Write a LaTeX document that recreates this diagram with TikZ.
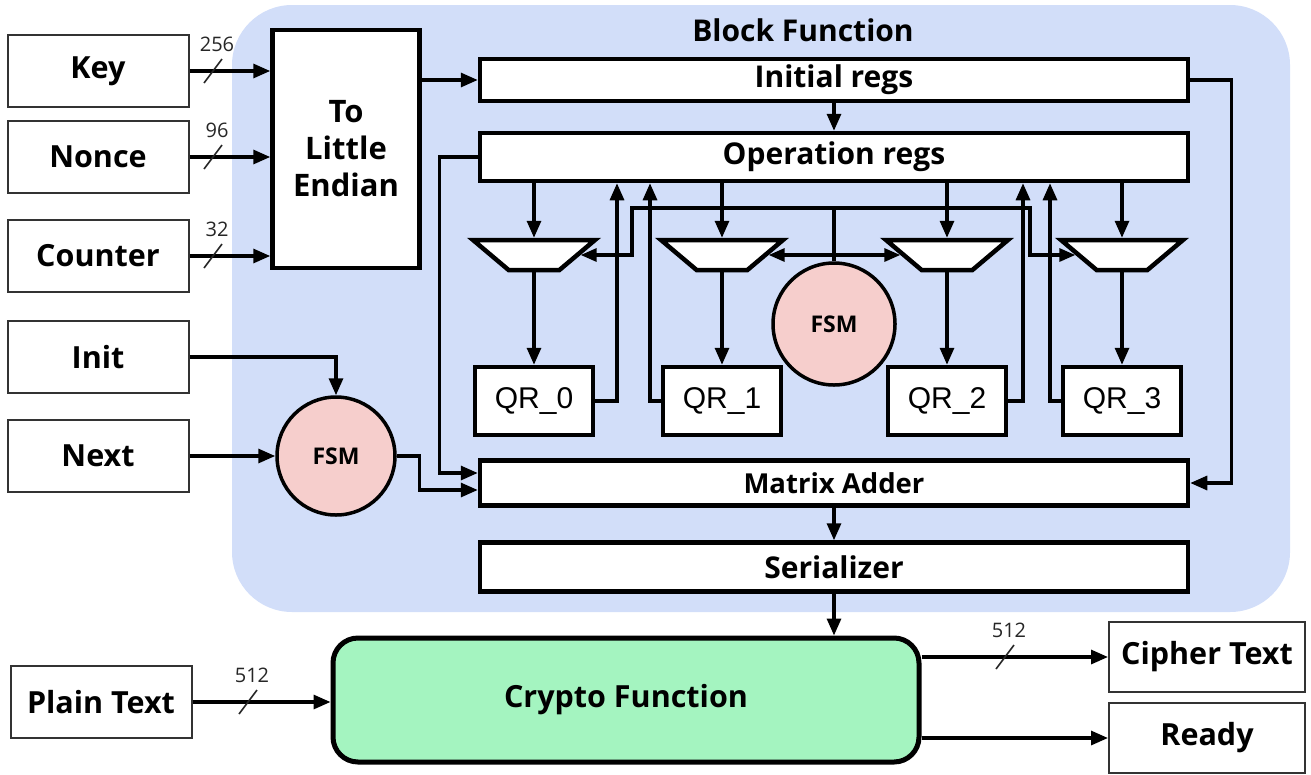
\documentclass[tikz,border=0pt]{standalone}
\usepackage{fontspec}
\setmainfont{Open Sans}
\newfontfamily\qrfont{Liberation Sans}
\usetikzlibrary{shapes.geometric,arrows.meta}
\definecolor{blockblue}{RGB}{210,222,249}
\definecolor{fsmpink}{RGB}{246,206,204}
\definecolor{cryptogreen}{RGB}{164,244,192}
\newcommand{\buswidth}[4]{\draw[busslash] (#2-9,#3+12) -- (#2+9,#3-12);
    \node[bits] (#1) at (#2+4,#3-27) {#4};}

\begin{document}
\begin{tikzpicture}[x=1pt, y=-1pt,
        inbox/.style={draw=black!80, line width=2pt, fill=white, inner sep=0pt, minimum width=181pt, minimum height=72pt, font=\fontsize{30.5}{36}\selectfont\bfseries},
        outbox/.style={inbox, minimum width=196pt, minimum height=70pt},
        regs/.style={draw, line width=4.5pt, fill=white, inner sep=0pt, minimum width=708pt, font=\fontsize{30}{34}\selectfont\bfseries},
        qrbox/.style={draw, line width=4.5pt, fill=white, inner sep=0pt, minimum width=118pt, minimum height=68pt, font=\qrfont\fontsize{30}{34}\selectfont},
        mux/.style={trapezium, trapezium angle=55, trapezium stretches=true, shape border rotate=180, minimum width=122pt, minimum height=30pt, inner sep=2pt, draw, line width=4.5pt, fill=white},
        fsm/.style={circle, draw, line width=3.5pt, fill=fsmpink, inner sep=0pt, font=\fontsize{23}{26}\selectfont\bfseries},
        wire/.style={line width=3.2pt},
        arr/.style={wire, -{Triangle[length=17pt,width=14pt]}},
        dblarr/.style={wire, {Triangle[length=16pt,width=13pt]}-{Triangle[length=16pt,width=13pt]}},
        busslash/.style={line width=1.6pt, black!85},
        bits/.style={font=\fontsize{20}{22}\selectfont, text=black!85, inner sep=0pt}]
                \useasboundingbox (0,0) rectangle (1311,774);
                \fill[blockblue, rounded corners=60pt] (232,5) rectangle (1290,612);
                \node[font=\fontsize{30}{34}\selectfont\bfseries] (bftitle) at (803,30) {Block Function};

                \node[inbox] (key) at (98,71) {Key};
                \node[inbox] (nonce) at (98,157) {Nonce};
                \node[inbox] (counter) at (98,256) {Counter};
                \node[inbox] (init) at (98,357) {Init};
                \node[inbox] (next) at (98,456) {Next};
                \node[inbox] (plain) at (101,702) {Plain Text};
                \node[outbox] (cipher) at (1207,657) {Cipher Text};
                \node[outbox] (ready) at (1207,738) {Ready};

                \node[draw, line width=4.5pt, fill=white, minimum width=147pt, minimum height=238pt, align=center, font=\fontsize{31}{37}\selectfont\bfseries] (endian) at (346,149) {To\\Little\\Endian};
                \node[regs, minimum height=42pt] (initregs) at (834,80) {Initial regs};
                \node[regs, minimum height=48pt] (opregs) at (834,157) {Operation regs};
                \node[regs, minimum height=45pt, font=\fontsize{27.5}{32}\selectfont\bfseries] (madder) at (834,483) {Matrix Adder};
                \node[regs, minimum height=49pt] (serial) at (834,567) {Serializer};
                \node[draw, line width=5pt, rounded corners=25pt, fill=cryptogreen, minimum width=586pt, minimum height=124pt, font=\fontsize{30.5}{36}\selectfont\bfseries] (crypto) at (626,700) {Crypto Function};

                \node[mux] (mux0) at (534,255) {};
                \node[mux] (mux1) at (722,255) {};
                \node[mux] (mux2) at (947,255) {};
                \node[mux] (mux3) at (1122,255) {};
                \node[qrbox] (qr0) at (534,401) {QR\_0};
                \node[qrbox] (qr1) at (722,401) {QR\_1};
                \node[qrbox] (qr2) at (947,401) {QR\_2};
                \node[qrbox] (qr3) at (1122,401) {QR\_3};
                \node[fsm, minimum size=122pt] (fsmq) at (834,324) {FSM};
                \node[fsm, minimum size=118pt] (fsmc) at (336,456) {FSM};
                \coordinate (ctlleft) at (632,208);
                \coordinate (ctlright) at (1030,208);

                \draw[arr] (key.east) -- (key.east -| endian.west);
                \draw[arr] (nonce.east) -- (nonce.east -| endian.west);
                \draw[arr] (counter.east) -- (counter.east -| endian.west);
                \buswidth{wkey}{213}{71}{256}
                \buswidth{wnonce}{213}{157}{96}
                \buswidth{wcounter}{213}{256}{32}
                \draw[arr] (endian.east |- initregs.west) -- (initregs.west);
                \draw[arr] (initregs.south) -- (initregs.south |- opregs.north);

                \draw[arr] (mux0.north |- opregs.south) -- (mux0.north);
                \draw[arr] (mux1.north |- opregs.south) -- (mux1.north);
                \draw[arr] (mux2.north |- opregs.south) -- (mux2.north);
                \draw[arr] (mux3.north |- opregs.south) -- (mux3.north);
                \draw[arr] (mux0.south) -- (qr0.north);
                \draw[arr] (mux1.south) -- (qr1.north);
                \draw[arr] (mux2.south) -- (qr2.north);
                \draw[arr] (mux3.south) -- (qr3.north);
                \draw[arr] (qr0.east) -| (617,0 |- opregs.south);
                \draw[arr] (qr1.west) -| (650,0 |- opregs.south);
                \draw[arr] (qr2.east) -| (1023,0 |- opregs.south);
                \draw[arr] (qr3.west) -| (1050,0 |- opregs.south);

                \draw[wire] (fsmq.north) -- (fsmq.north |- ctlleft);
                \draw[dblarr] (mux0.east) -| (ctlleft) -- (ctlright) |- (mux3.west);
                \draw[dblarr] (mux1.east) -- (mux2.west);

                \draw[arr] (init.east) -| (fsmc.north);
                \draw[arr] (next.east) -- (fsmc.west);
                \draw[arr] (opregs.west) -- ++(-38,0) |- ([yshift=10pt]madder.west);
                \draw[arr] (fsmc.east) -- ++(23,0) |- ([yshift=-7pt]madder.west);
                \draw[arr] (initregs.east) -- ++(41,0) |- (madder.east);
                \draw[arr] (madder.south) -- (madder.south |- serial.north);
                \draw[arr] (serial.south) -- (serial.south |- crypto.north);

                \draw[arr] (plain.east) -- (plain.east -| crypto.west);
                \draw[arr] (crypto.east |- cipher.west) -- (cipher.west);
                \draw[arr] (crypto.east |- ready.west) -- (ready.west);
                \buswidth{wplain}{248}{702}{512}
                \buswidth{wcipher}{1005}{657}{512}
\end{tikzpicture}
\end{document}
